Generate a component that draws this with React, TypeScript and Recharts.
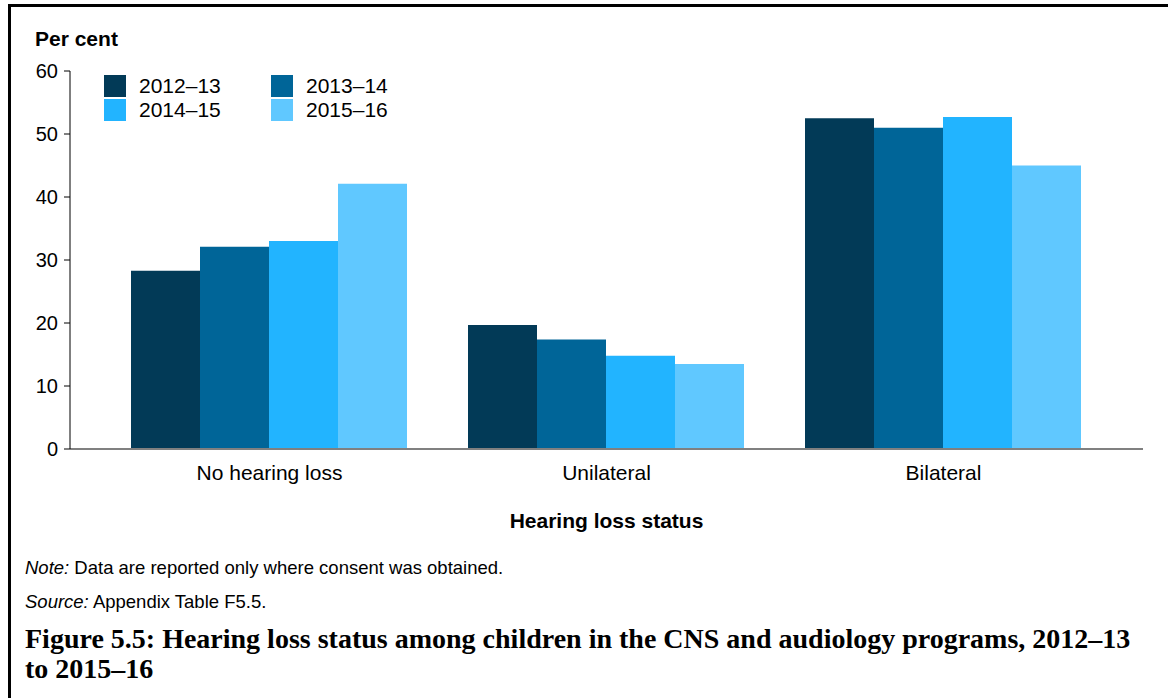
import { Bar, BarChart, XAxis, YAxis } from "recharts"

const categories = ["No hearing loss", "Unilateral", "Bilateral"]
const y2012 = [28.3, 19.7, 52.5]
const y2013 = [32.1, 17.4, 51.0]
const y2014 = [33.0, 14.8, 52.7]
const y2015 = [42.1, 13.5, 45.0]
const yTicks = [0, 10, 20, 30, 40, 50, 60]

const series = [
  { key: "2012–13", values: y2012, color: "#023A57" },
  { key: "2013–14", values: y2013, color: "#006598" },
  { key: "2014–15", values: y2014, color: "#22B4FF" },
  { key: "2015–16", values: y2015, color: "#60C8FF" },
]

const data = categories.map((name, i) => {
  const row: Record<string, string | number> = { name }
  series.forEach((s) => {
    row[s.key] = s.values[i]
  })
  return row
})

const font = "'Liberation Sans', Arial, sans-serif"

function LegendBox() {
  return (
    <div style={{ display: "grid", gridTemplateColumns: "167px 167px", rowGap: 2, fontFamily: font, fontSize: 21 }}>
      {series.map((s) => (
        <div key={s.key} style={{ display: "flex", alignItems: "center", height: 22 }}>
          <div style={{ width: 22, height: 22, background: s.color, marginRight: 13 }} />
          <span style={{ lineHeight: "22px" }}>{s.key}</span>
        </div>
      ))}
    </div>
  )
}

export default function App() {
  return (
    <div style={{ position: "absolute", left: 0, top: 0, width: 1168, height: 698, background: "#fff", overflow: "hidden" }}>
      <div
        style={{
          position: "absolute",
          left: 8,
          top: 4,
          width: 1180,
          height: 720,
          borderLeft: "3px solid #000",
          borderTop: "3px solid #000",
        }}
      />
      <div style={{ position: "absolute", left: 35, top: 27, fontFamily: font, fontWeight: "bold", fontSize: 21 }}>Per cent</div>
      <div style={{ position: "absolute", left: 0, top: 0 }}>
        <BarChart
          width={1168}
          height={540}
          data={data}
          margin={{ top: 71, right: 25, bottom: 0, left: 10 }}
          barCategoryGap={30}
          barGap={0}
        >
          <XAxis
            dataKey="name"
            axisLine={{ stroke: "#808080", strokeWidth: 2 }}
            tickLine={false}
            tick={{ fill: "#000", fontSize: 21, fontFamily: font }}
            padding={{ left: 31, right: 31 }}
            tickMargin={10}
            height={91}
            label={{ value: "Hearing loss status", position: "insideBottom", offset: 12, fill: "#000", fontSize: 21, fontWeight: "bold", fontFamily: font }}
          />
          <YAxis
            domain={[0, 60]}
            ticks={yTicks}
            width={60}
            axisLine={{ stroke: "#000" }}
            tickLine={{ stroke: "#000" }}
            tickSize={6}
            tickMargin={6}
            tick={{ fill: "#000", fontSize: 20, fontFamily: font }}
          />
          {series.map((s) => (
            <Bar key={s.key} dataKey={s.key} fill={s.color} isAnimationActive={false} />
          ))}
        </BarChart>
      </div>
      <div style={{ position: "absolute", left: 104, top: 75 }}>
        <LegendBox />
      </div>
      <div style={{ position: "absolute", left: 25, top: 557, fontFamily: font, fontSize: 18.5 }}>
        <i>Note:</i> Data are reported only where consent was obtained.
      </div>
      <div style={{ position: "absolute", left: 25, top: 591, fontFamily: font, fontSize: 18.5 }}>
        <i>Source:</i> Appendix Table F5.5.
      </div>
      <div
        style={{
          position: "absolute",
          left: 25,
          top: 624,
          width: 1115,
          fontFamily: "'Liberation Serif', 'Times New Roman', serif",
          fontWeight: "bold",
          fontSize: 28,
          lineHeight: "30px",
        }}
      >
        Figure 5.5: Hearing loss status among children in the CNS and audiology programs, 2012–13 to 2015–16
      </div>
    </div>
  )
}
